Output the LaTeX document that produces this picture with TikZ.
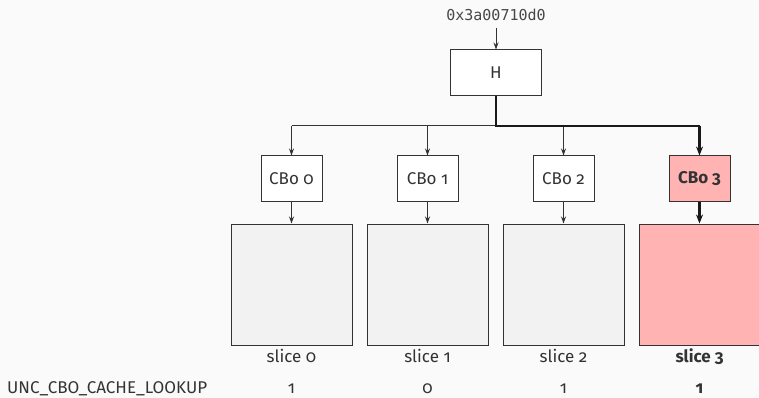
\documentclass[tikz,border=0pt]{standalone}
\usepackage{fontspec}
\setmainfont{Fira Sans}[Numbers=OldStyle]
\setmonofont{DejaVu Sans Mono}
\usetikzlibrary{arrows.meta}
\definecolor{ink}{HTML}{333333}
\definecolor{paper}{HTML}{FAFAFA}
\definecolor{slicegray}{HTML}{F2F2F2}
\definecolor{hitred}{HTML}{FFB3B3}
\tikzset{
  box/.style={draw=ink, line width=1pt, fill=white, inner sep=0pt},
  hashbox/.style={box, minimum width=91pt, minimum height=46pt},
  cbobox/.style={box, minimum width=61pt, minimum height=45pt},
  slicebox/.style={box, fill=slicegray, minimum width=121pt, minimum height=121pt},
  hit/.style={fill=hitred},
  lbl/.style={text=ink, font=\fontsize{17}{19}\selectfont, inner sep=0pt},
  boldlbl/.style={lbl, font=\bfseries\fontsize{17}{19}\selectfont},
  wire/.style={draw=ink, line width=1pt},
  thickwire/.style={draw=black!90, line width=2.4pt},
  arr/.style={wire, -{Stealth[length=7pt, width=5pt]}},
  thickarr/.style={thickwire, -{Stealth[length=9pt, width=7pt]}},
}
\begin{document}
\begin{tikzpicture}[x=1pt, y=-1pt]
  \fill[paper] (0,0) rectangle (759,398);
  \useasboundingbox (0,0) rectangle (759,398);

  % address and hash unit
  \node[lbl, text=ink!90, font=\ttfamily\fontsize{15}{17}\selectfont] (addr) at (496,15) {0x3a00710d0};
  \node[hashbox, lbl] (H) at (496,73) {H};
  \draw[arr] (496,28) -- (H.north);

  % branching point under the hash unit
  \coordinate (split) at (496,126);
  \coordinate (b0) at (291.5,126);
  \coordinate (b1) at (427.5,126);
  \coordinate (b2) at (563.5,126);
  \coordinate (b3) at (699.5,126);

  % CBo boxes
  \node[cbobox, lbl] (c0) at (291.5,178.5) {CBo 0};
  \node[cbobox, lbl] (c1) at (427.5,178.5) {CBo 1};
  \node[cbobox, lbl] (c2) at (563.5,178.5) {CBo 2};
  \node[cbobox, hit, boldlbl] (c3) at (699.5,178.5) {CBo 3};

  % slices
  \node[slicebox] (s0) at (291.5,284.5) {};
  \node[slicebox] (s1) at (427.5,284.5) {};
  \node[slicebox] (s2) at (563.5,284.5) {};
  \node[slicebox, hit] (s3) at (699.5,284.5) {};

  % distribution wires
  \draw[wire] (b0) -- (split);
  \draw[arr] (b0) -- (c0.north);
  \draw[arr] (b1) -- (c1.north);
  \draw[arr] (b2) -- (c2.north);
  \draw[thickwire] (H.south) -- (split) -- (b3);
  \draw[thickarr] (b3) -- (c3.north);

  % CBo to slice
  \draw[arr] (c0.south) -- (s0.north);
  \draw[arr] (c1.south) -- (s1.north);
  \draw[arr] (c2.south) -- (s2.north);
  \draw[thickarr] (c3.south) -- (s3.north);

  % slice labels
  \node[lbl, anchor=base] (l0) at (291.5,362) {slice 0};
  \node[lbl, anchor=base] (l1) at (427.5,362) {slice 1};
  \node[lbl, anchor=base] (l2) at (563.5,362) {slice 2};
  \node[boldlbl, anchor=base] (l3) at (699.5,362) {slice 3};

  % counter values
  \node[lbl, anchor=base west] (ctr) at (7,393) {UNC\_CBO\_CACHE\_LOOKUP};
  \node[lbl, anchor=base] (v0) at (291.5,393) {1};
  \node[lbl, anchor=base] (v1) at (427.5,393) {0};
  \node[lbl, anchor=base] (v2) at (563.5,393) {1};
  \node[boldlbl, anchor=base] (v3) at (699.5,393) {1};
\end{tikzpicture}
\end{document}
